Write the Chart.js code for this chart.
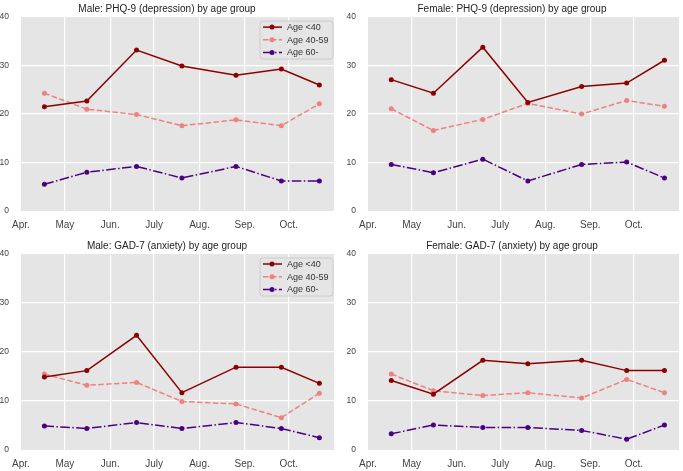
<!DOCTYPE html>
<html>
<head>
<meta charset="utf-8">
<script src="https://cdn.jsdelivr.net/npm/chart.js@4"></script>
<style>
  html, body { margin: 0; padding: 0; background: #fff; }
  .panel { position: absolute; }
</style>
</head>
<body>
<div class="panel" style="left:0;top:0;width:341px;height:235px"><canvas id="c1"></canvas></div>
<div class="panel" style="left:341px;top:0;width:342px;height:235px"><canvas id="c2"></canvas></div>
<div class="panel" style="left:0;top:235px;width:341px;height:236px"><canvas id="c3"></canvas></div>
<div class="panel" style="left:341px;top:235px;width:342px;height:236px"><canvas id="c4"></canvas></div>
<script>
// survey dates and month ticks
const surveyDates = ["2020-04-17", "2020-05-16", "2020-06-19", "2020-07-20", "2020-08-26", "2020-09-26", "2020-10-22"];
const monthStarts = ["2020-04-01", "2020-05-01", "2020-06-01", "2020-07-01", "2020-08-01", "2020-09-01", "2020-10-01"];
const monthLabels = ["Apr.", "May", "Jun.", "July", "Aug.", "Sep.", "Oct."];
const groupLabels = ["Age <40", "Age 40-59", "Age 60-"];

// PHQ-9 (depression)
const malePhqU40 = [21.5, 22.7, 33.2, 29.9, 28.0, 29.3, 26.0];
const malePhq4059 = [24.3, 21.0, 19.9, 17.6, 18.8, 17.6, 22.1];
const malePhq60 = [5.5, 8.0, 9.2, 6.8, 9.2, 6.2, 6.2];
const femalePhqU40 = [27.1, 24.3, 33.8, 22.4, 25.7, 26.4, 31.1];
const femalePhq4059 = [21.1, 16.6, 18.9, 22.2, 20.0, 22.8, 21.6];
const femalePhq60 = [9.6, 7.9, 10.7, 6.2, 9.6, 10.1, 6.8];

// GAD-7 (anxiety)
const maleGadU40 = [14.9, 16.2, 23.4, 11.7, 16.9, 16.9, 13.6];
const maleGad4059 = [15.5, 13.2, 13.8, 9.9, 9.4, 6.6, 11.6];
const maleGad60 = [4.9, 4.4, 5.6, 4.4, 5.6, 4.4, 2.5];
const femaleGadU40 = [14.2, 11.4, 18.3, 17.6, 18.3, 16.2, 16.2];
const femaleGad4059 = [15.5, 12.1, 11.1, 11.7, 10.6, 14.4, 11.7];
const femaleGad60 = [3.3, 5.1, 4.6, 4.6, 4.0, 2.2, 5.1];

const FONT = "'Liberation Sans', Arial, sans-serif";
const dayOf = s => (Date.parse(s) - Date.parse("2020-04-01")) / 86400000;

const styles = [
    { color: "#8b0000", dash: [] },
    { color: "#f08080", dash: [5.5, 2.4] },
    { color: "#4b0082", dash: [9.6, 2.4, 1.5, 2.4] },
];

// grey plot background
const plotBg = {
    id: "plotBg",
    beforeDraw(chart) {
        const { ctx, chartArea: a } = chart;
        ctx.save();
        ctx.fillStyle = "#e5e5e5";
        ctx.fillRect(a.left, a.top, a.right - a.left, a.bottom - a.top);
        ctx.restore();
    },
};

// legend box drawn inside the plot, top right
const boxLegend = {
    id: "boxLegend",
    afterDatasetsDraw(chart, args, opts) {
        if (!opts.display) return;
        const { ctx, chartArea } = chart;
        const w = 73, h = 38;
        const x0 = chartArea.right - w - 1, y0 = chartArea.top + 4;
        ctx.save();
        ctx.beginPath();
        ctx.roundRect(x0, y0, w, h, 3);
        ctx.fillStyle = "rgba(229,229,229,0.85)";
        ctx.fill();
        ctx.strokeStyle = "#cccccc";
        ctx.lineWidth = 1;
        ctx.stroke();
        chart.data.datasets.forEach((ds, i) => {
            const y = y0 + 6 + i * 12.7;
            ctx.setLineDash(ds.borderDash);
            ctx.strokeStyle = ds.borderColor;
            ctx.lineWidth = ds.borderWidth;
            ctx.beginPath();
            ctx.moveTo(x0 + 3, y);
            ctx.lineTo(x0 + 22, y);
            ctx.stroke();
            ctx.setLineDash([]);
            ctx.fillStyle = ds.borderColor;
            ctx.beginPath();
            ctx.arc(x0 + 12, y, 2.5, 0, Math.PI * 2);
            ctx.fill();
            ctx.fillStyle = "#333";
            ctx.font = "9px " + FONT;
            ctx.textBaseline = "middle";
            ctx.fillText(ds.label, x0 + 27, y + 0.5);
        });
        ctx.restore();
    },
};

function makePanel(id, title, series, isLeft, isTop) {
    const xs = surveyDates.map(dayOf);
    new Chart(document.getElementById(id), {
        type: "line",
        data: {
            datasets: series.map((vals, i) => ({
                label: groupLabels[i],
                data: vals.map((v, j) => ({ x: xs[j], y: v })),
                borderColor: styles[i].color,
                backgroundColor: styles[i].color,
                borderDash: styles[i].dash,
                borderWidth: 1.5,
                pointRadius: 2.5,
                pointBorderWidth: 0,
                pointBackgroundColor: styles[i].color,
                tension: 0,
            })),
        },
        options: {
            responsive: true,
            maintainAspectRatio: false,
            animation: false,
            layout: { padding: { left: 0, right: isLeft ? 7 : 0, top: 0, bottom: 0 } },
            plugins: {
                legend: { display: false },
                tooltip: { enabled: false },
                title: {
                    display: true,
                    text: title,
                    color: "#222",
                    font: { family: FONT, size: 10, weight: "normal" },
                    padding: { top: isTop ? 2 : 5, bottom: 2 },
                },
                boxLegend: { display: isLeft },
            },
            scales: {
                x: {
                    type: "linear",
                    min: 0,
                    max: dayOf("2020-11-01"),
                    afterBuildTicks: s => { s.ticks = monthStarts.map(d => ({ value: dayOf(d) })); },
                    afterFit: s => { s.height = isTop ? 24 : 21; },
                    ticks: {
                        callback: (v, i) => monthLabels[i],
                        autoSkip: false,
                        maxRotation: 0,
                        padding: 8,
                        color: "#444",
                        font: { family: FONT, size: 10 },
                    },
                    grid: {
                        color: c => (c.index === 0 ? "rgba(0,0,0,0)" : "#ffffff"),
                        lineWidth: 1.2,
                        drawTicks: false,
                    },
                    border: { display: false },
                },
                y: {
                    min: 0,
                    max: 40,
                    afterFit: s => { s.width = isLeft ? 21 : 27; },
                    ticks: {
                        stepSize: 10,
                        padding: 12,
                        color: "#444",
                        font: { family: FONT, size: 8.5 },
                    },
                    grid: {
                        color: c => (c.tick.value === 0 || c.tick.value === 40 ? "rgba(0,0,0,0)" : "#ffffff"),
                        lineWidth: 1.2,
                        drawTicks: false,
                    },
                    border: { display: false },
                },
            },
        },
        plugins: [plotBg, boxLegend],
    });
}

makePanel("c1", "Male: PHQ-9 (depression) by age group", [malePhqU40, malePhq4059, malePhq60], true, true);
makePanel("c2", "Female: PHQ-9 (depression) by age group", [femalePhqU40, femalePhq4059, femalePhq60], false, true);
makePanel("c3", "Male: GAD-7 (anxiety) by age group", [maleGadU40, maleGad4059, maleGad60], true, false);
makePanel("c4", "Female: GAD-7 (anxiety) by age group", [femaleGadU40, femaleGad4059, femaleGad60], false, false);
</script>
</body>
</html>
